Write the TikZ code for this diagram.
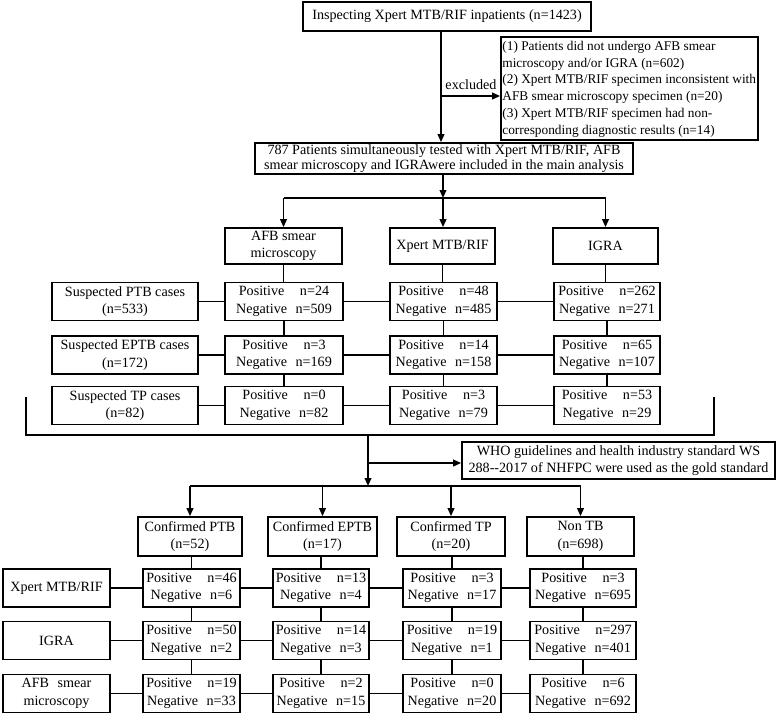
\documentclass[tikz,border=0pt]{standalone}
\usepackage{fontspec}
\setmainfont{Liberation Serif}
\usetikzlibrary{arrows.meta}
\newcommand\resPN[2]{Positive\hspace{1.1em}n=#1\\Negative\hspace{0.6em}n=#2}
\begin{document}
\begin{tikzpicture}[x=0.75pt,y=-0.75pt,
  bx/.style n args={2}{draw, line width=1.3pt, minimum width=#1*0.75pt, minimum height=#2*0.75pt, inner sep=0pt, align=center, font=\fontsize{10.6}{13.2}\selectfont},
  ln/.style={line width=1.3pt},
  ar/.style={line width=1.3pt, -{Triangle[length=6pt,width=5pt]}},
]
\useasboundingbox (0,0) rectangle (778,715);
% top part
\node[bx={288}{29}] (top) at (447,16.5) {Inspecting Xpert MTB/RIF inpatients (n=1423)};
\node[bx={257}{103}] (excl) at (629.5,88.5) {};
\node[anchor=west, align=left, inner sep=0pt, font=\fontsize{10}{12.6}\selectfont] (excltext) at ([xshift=1.5pt,yshift=-0.5pt]excl.west) {(1) Patients did not undergo AFB smear\\microscopy and/or IGRA (n=602)\\(2) Xpert MTB/RIF specimen inconsistent with\\AFB smear microscopy specimen (n=20)\\(3) Xpert MTB/RIF specimen had non-\\corresponding diagnostic results (n=14)};
\node[bx={378}{31}, font=\fontsize{10.6}{11.6}\selectfont] (main) at (444,158.5) {787 Patients simultaneously tested with Xpert MTB/RIF, AFB\\smear microscopy and IGRAwere included in the main analysis};
\coordinate (v) at (441,0);
\coordinate (ex) at (441,96);
\draw[ar] (top.south -| v) -- (main.north -| v);
\draw[ar] (ex) -- (ex -| excl.west);
\node[font=\fontsize{10.6}{12}\selectfont, inner sep=0pt] (exlab) at (471,85) {excluded};
% headers
\node[bx={117}{36}] (hA) at (283.5,246) {AFB smear\\microscopy};
\node[bx={105}{36}] (hX) at (442.5,246) {Xpert MTB/RIF};
\node[bx={105}{36}] (hI) at (605.5,246) {IGRA};
\coordinate (s1) at (443,198);
\draw[ar] (main.south -| s1) -- (s1);
\draw[ln] (hA.north |- s1) -- (hI.north |- s1);
\draw[ar] (hA.north |- s1) -- (hA.north);
\draw[ar] (s1) -- (s1 |- hX.north);
\draw[ar] (hI.north |- s1) -- (hI.north);
% suspected rows
\node[bx={146}{38}] (lP) at (125,301.5) {Suspected PTB cases\\(n=533)};
\node[bx={146}{38}] (lE) at (125,355) {Suspected EPTB cases\\(n=172)};
\node[bx={146}{38}] (lT) at (125,405.5) {Suspected TP cases\\(n=82)};
\node[bx={118}{38}] (aP) at (284,301.5) {\resPN{24}{509}};
\node[bx={118}{38}] (aE) at (284,355) {\resPN{3}{169}};
\node[bx={118}{38}] (aT) at (284,405.5) {\resPN{0}{82}};
\node[bx={107}{38}] (xP) at (443.5,301.5) {\resPN{48}{485}};
\node[bx={107}{38}] (xE) at (443.5,355) {\resPN{14}{158}};
\node[bx={107}{38}] (xT) at (443.5,405.5) {\resPN{3}{79}};
\node[bx={106}{38}] (iP) at (607,301.5) {\resPN{262}{271}};
\node[bx={106}{38}] (iE) at (607,355) {\resPN{65}{107}};
\node[bx={106}{38}] (iT) at (607,405.5) {\resPN{53}{29}};
\foreach \r in {P,E,T}{
  \draw[ln] (l\r.east) -- (a\r.west);
  \draw[ln] (a\r.east) -- (x\r.west);
  \draw[ln] (x\r.east) -- (i\r.west);
}
\draw[ln] (hA.south) -- (hA.south |- aP.north);
\draw[ln] (aP.south) -- (aP.south |- aE.north);
\draw[ln] (aE.south) -- (aE.south |- aT.north);
\draw[ln] (hX.south) -- (hX.south |- xP.north);
\draw[ln] (xP.south) -- (xP.south |- xE.north);
\draw[ln] (xE.south) -- (xE.south |- xT.north);
\draw[ln] (hI.south) -- (hI.south |- iP.north);
\draw[ln] (iP.south) -- (iP.south |- iE.north);
\draw[ln] (iE.south) -- (iE.south |- iT.north);
% bracket
\coordinate (bl1) at (26,397);
\coordinate (bl2) at (26,435);
\coordinate (br2) at (714,435);
\coordinate (br1) at (714,397);
\draw[ln] (bl1) -- (bl2) -- (br2) -- (br1);
\coordinate (bm) at (368,435);
\coordinate (s2) at (368,486);
\coordinate (wa) at (368,463);
\node[bx={313}{37}] (who) at (618.5,460.5) {WHO guidelines and health industry standard WS\\288-{}-2017 of NHFPC were used as the gold standard};
\draw[ar] (bm) -- (s2);
\draw[ar] (wa) -- (wa -| who.west);
% confirmed
\node[bx={104}{39}] (cP) at (190,536.5) {Confirmed PTB\\(n=52)};
\node[bx={109}{39}] (cE) at (322.5,536.5) {Confirmed EPTB\\(n=17)};
\node[bx={108}{39}] (cT) at (451,536.5) {Confirmed TP\\(n=20)};
\node[bx={107}{39}] (cN) at (580.5,536.5) {Non TB\\(n=698)};
\draw[ln] (cP.north |- s2) -- (cN.north |- s2);
\foreach \c in {P,E,T,N}{\draw[ar] (c\c.north |- s2) -- (c\c.north);}
% bottom rows
\node[bx={107}{38}] (lX) at (56.5,588) {Xpert MTB/RIF};
\node[bx={107}{38}] (lI) at (56.5,640.5) {IGRA};
\node[bx={107}{38}] (lA) at (56.5,693.5) {AFB\hspace{0.6em}smear\\microscopy};
\node[bx={97}{38}] (XP) at (191.5,588) {\resPN{46}{6}};
\node[bx={96}{38}] (XE) at (321,588) {\resPN{13}{4}};
\node[bx={98}{38}] (XT) at (452,588) {\resPN{3}{17}};
\node[bx={106}{38}] (XN) at (583,588) {\resPN{3}{695}};
\node[bx={97}{38}] (IP) at (191.5,640.5) {\resPN{50}{2}};
\node[bx={96}{38}] (IE) at (321,640.5) {\resPN{14}{3}};
\node[bx={98}{38}] (IT) at (452,640.5) {\resPN{19}{1}};
\node[bx={106}{38}] (IN) at (583,640.5) {\resPN{297}{401}};
\node[bx={97}{38}] (AP) at (191.5,693.5) {\resPN{19}{33}};
\node[bx={96}{38}] (AE) at (321,693.5) {\resPN{2}{15}};
\node[bx={98}{38}] (AT) at (452,693.5) {\resPN{0}{20}};
\node[bx={106}{38}] (AN) at (583,693.5) {\resPN{6}{692}};
\foreach \r in {X,I,A}{
  \draw[ln] (l\r.east) -- (\r P.west);
  \draw[ln] (\r P.east) -- (\r E.west);
  \draw[ln] (\r E.east) -- (\r T.west);
  \draw[ln] (\r T.east) -- (\r N.west);
}
\foreach \c in {P,E,T,N}{
  \draw[ln] (X\c.north |- c\c.south) -- (X\c.north);
  \draw[ln] (X\c.south) -- (X\c.south |- I\c.north);
  \draw[ln] (I\c.south) -- (I\c.south |- A\c.north);
}
\end{tikzpicture}
\end{document}
